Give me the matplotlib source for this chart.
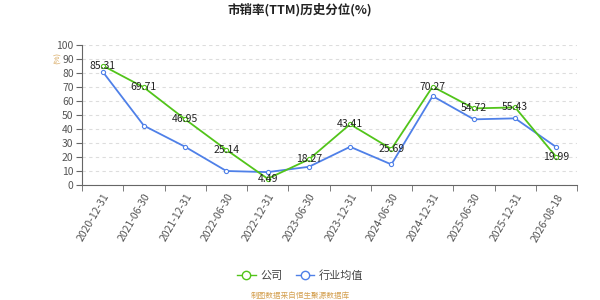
import matplotlib
matplotlib.use("Agg")
import matplotlib.pyplot as plt
from matplotlib.lines import Line2D

plt.rcParams['font.family'] = ['Noto Sans CJK SC', 'DejaVu Sans']

dates = ["2020-12-31", "2021-06-30", "2021-12-31", "2022-06-30", "2022-12-31", "2023-06-30",
         "2023-12-31", "2024-06-30", "2024-12-31", "2025-06-30", "2025-12-31", "2026-08-18"]
company = [85.31, 69.71, 46.95, 25.14, 4.49, 18.27, 43.41, 25.69, 70.27, 54.72, 55.43, 19.99]
industry = [81.0, 42.4, 27.3, 10.0, 9.2, 13.0, 27.3, 14.7, 63.5, 46.9, 47.6, 27.0]
yticks = list(range(0, 101, 10))

green = '#52c41a'
blue = '#4f80e8'

fig = plt.figure(figsize=(6, 3), dpi=100)
ax = fig.add_axes([82/600, 1-185/300, 495/600, 140/300])

x = list(range(len(dates)))
ax.plot(x, industry, color=blue, lw=1.3, marker='o', ms=3, mfc='white', mec=blue, mew=0.8, zorder=3)
ax.plot(x, company, color=green, lw=1.3, marker='o', ms=3, mfc='white', mec=green, mew=0.8, zorder=4)
for xi, v in zip(x, company):
    ax.text(xi, v, f"{v:.2f}", ha='center', va='center', fontsize=7.5, color='#222222', zorder=5)

ax.set_xlim(-0.5, len(dates) - 0.5)
ax.set_ylim(0, 100)
ax.set_yticks(yticks)
ax.set_yticklabels([str(t) for t in yticks], fontsize=7.5, color='#555555')
ax.set_xticks(x)
ax.set_xticklabels(dates, rotation=60, ha='right', rotation_mode='anchor', fontsize=7.5, color='#555555')
ax.tick_params(axis='x', which='major', length=0, pad=5)
ax.set_xticks([i - 0.5 for i in range(len(dates) + 1)], minor=True)
ax.tick_params(axis='x', which='minor', length=4, color='#666666')
ax.tick_params(axis='y', length=4, color='#666666', pad=2)

ax.grid(axis='y', linestyle=(0, (3, 3)), color='#dddddd', lw=0.8)
for s in ['top', 'right']:
    ax.spines[s].set_visible(False)
for s in ['left', 'bottom']:
    ax.spines[s].set_color('#666666')
ax.set_axisbelow(True)

fig.text(0.5, 1-10/300, "市销率(TTM)历史分位(%)", ha='center', va='center', fontsize=9, fontweight='bold', color='#222222')
fig.text(58/600, 1-58/300, "(%)", ha='center', va='center', fontsize=5.5, color='#d4a050', rotation=90)

handles = [Line2D([0], [0], color=green, lw=1, marker='o', ms=6, mfc='white', mec=green),
           Line2D([0], [0], color=blue, lw=1, marker='o', ms=6, mfc='white', mec=blue)]
fig.legend(handles, ["公司", "行业均值"], loc='center', bbox_to_anchor=(0.5, 1-276/300), ncol=2,
           frameon=False, fontsize=8, labelcolor='#444444', handlelength=1.7, columnspacing=1.2, handletextpad=0.4)

fig.text(0.5, 1-296/300, "制图数据来自恒生聚源数据库", ha='center', va='center', fontsize=5.5, color='#d4a050')

fig.savefig("out.png", dpi=100)
